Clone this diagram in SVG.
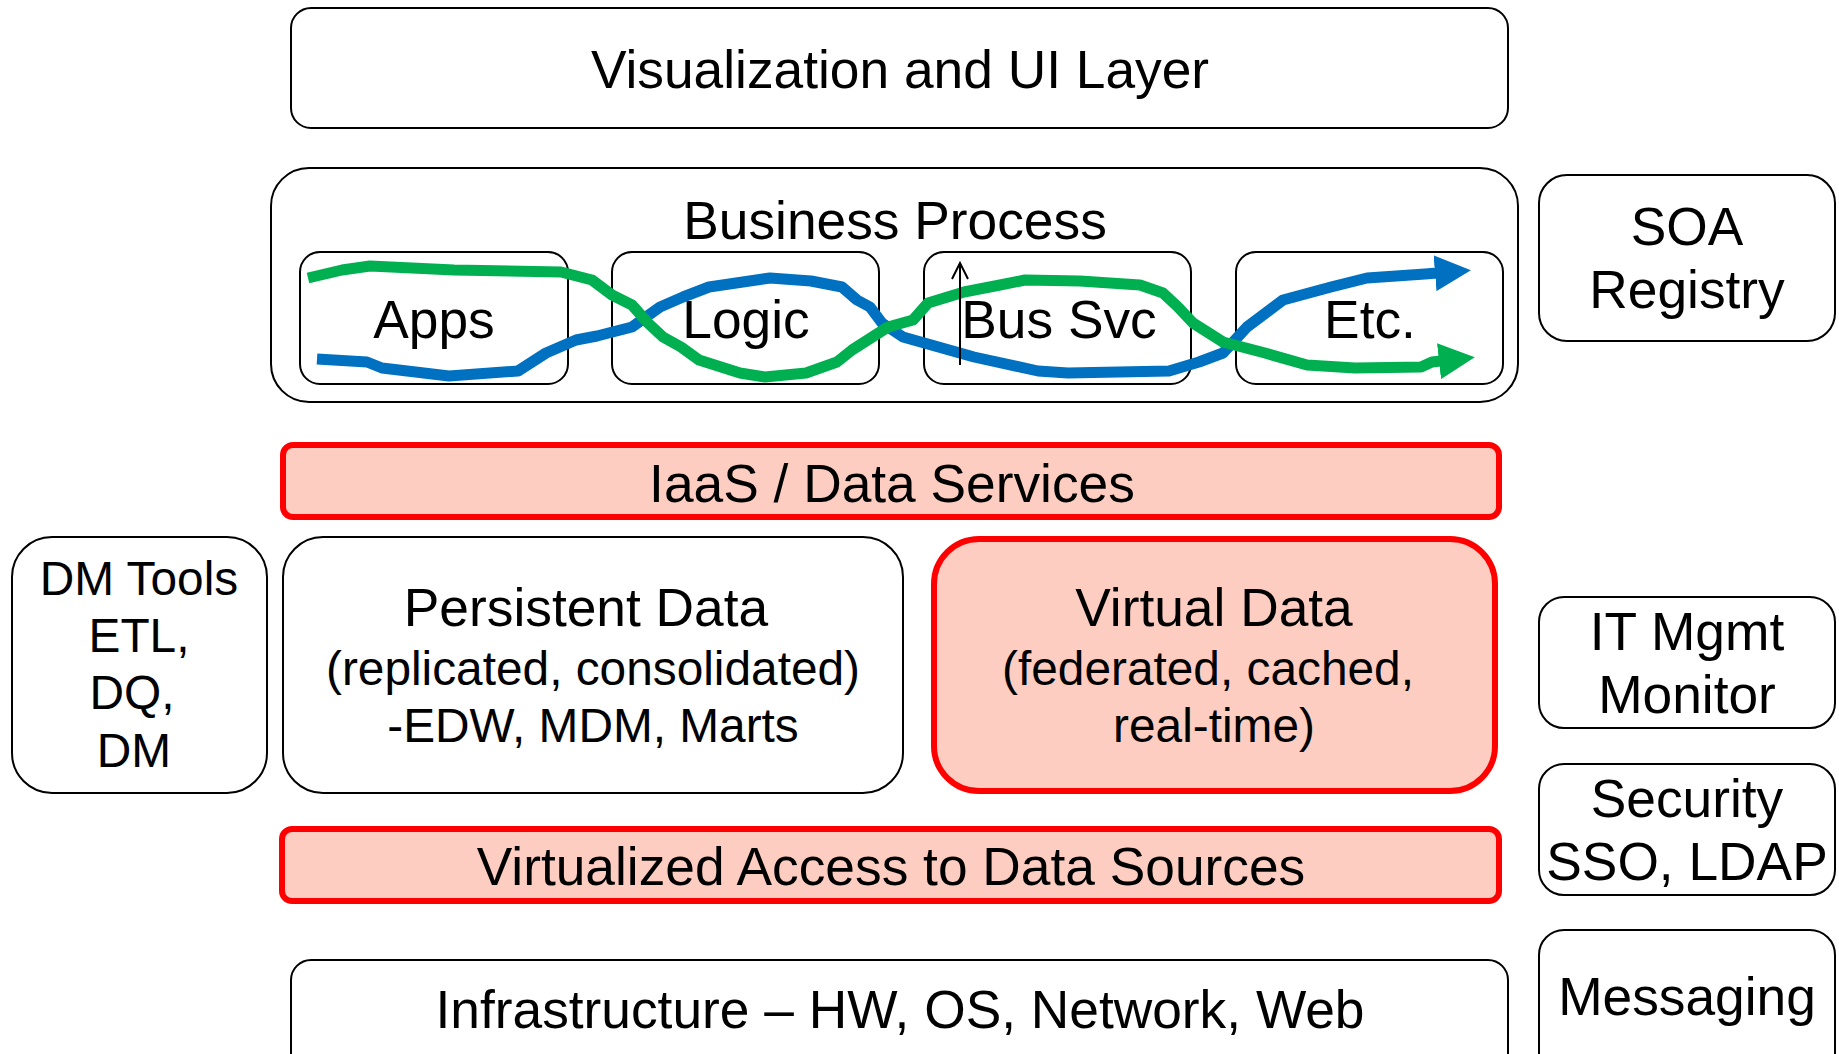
<svg xmlns="http://www.w3.org/2000/svg" width="1839" height="1054" viewBox="0 0 1839 1054">
<defs>
<style>
.box{fill:#ffffff;stroke:#000000;stroke-width:2}
.red{fill:#FDCDC1;stroke:#FF0000;stroke-width:6}
text{font-family:"Liberation Sans",Arial,sans-serif;fill:#000000;text-anchor:middle}
.t{font-size:53.3px}
.s{font-size:47.8px}
.flow{fill:none;stroke-width:11;stroke-linejoin:round;stroke-linecap:butt}
</style>
<marker id="ahBlue" markerUnits="userSpaceOnUse" viewBox="0 0 36 36" markerWidth="36" markerHeight="36" refX="2" refY="18" orient="auto">
<path d="M0,0 L36,18 L0,36 Z" fill="#0070C0"/>
</marker>
<marker id="ahGreen" markerUnits="userSpaceOnUse" viewBox="0 0 36 36" markerWidth="36" markerHeight="36" refX="2" refY="18" orient="auto">
<path d="M0,0 L36,18 L0,36 Z" fill="#00B050"/>
</marker>
<marker id="ahOpen" markerUnits="userSpaceOnUse" viewBox="-2 -10 20 20" markerWidth="20" markerHeight="20" refX="16" refY="0" orient="auto">
<path d="M0,-8 L16,0 L0,8" fill="none" stroke="#000000" stroke-width="2"/>
</marker>
</defs>
<rect width="1839" height="1054" fill="#ffffff"/>

<g id="visualization">
<rect class="box" x="291" y="8" width="1217" height="120" rx="20"/>
<text class="t" x="900" y="88">Visualization and UI Layer</text>
</g>

<g id="business-process">
<rect class="box" x="271" y="168" width="1247" height="234" rx="38"/>
<text class="t" x="895" y="239">Business Process</text>
</g>
<g id="apps">
<rect class="box" x="300" y="252" width="268" height="132" rx="20"/>
<text class="t" x="434" y="338">Apps</text>
</g>
<g id="logic">
<rect class="box" x="612" y="252" width="267" height="132" rx="20"/>
<text class="t" x="746" y="338">Logic</text>
</g>
<g id="bus-svc">
<rect class="box" x="924" y="252" width="267" height="132" rx="20"/>
<text class="t" x="1059" y="338">Bus Svc</text>
</g>
<g id="etc">
<rect class="box" x="1236" y="252" width="267" height="132" rx="20"/>
<text class="t" x="1370" y="338">Etc.</text>
</g>
<g id="soa-registry">
<rect class="box" x="1539" y="175" width="296" height="166" rx="28"/>
<text class="t" x="1687" y="245">SOA</text>
<text class="t" x="1687" y="308">Registry</text>
</g>

<g id="iaas">
<rect class="red" x="283" y="445" width="1216" height="72" rx="10"/>
<text class="t" x="892" y="502">IaaS / Data Services</text>
</g>

<g id="dm-tools">
<rect class="box" x="12" y="537" width="255" height="256" rx="40"/>
<text class="s" x="139" y="595">DM Tools</text>
<text class="s" x="139" y="652">ETL,</text>
<text class="s" x="132" y="709">DQ,</text>
<text class="s" x="134" y="767">DM</text>
</g>

<g id="persistent-data">
<rect class="box" x="283" y="537" width="620" height="256" rx="40"/>
<text class="t" x="586" y="626">Persistent Data</text>
<text class="s" x="593" y="685">(replicated, consolidated)</text>
<text class="s" x="593" y="742">-EDW, MDM, Marts</text>
</g>

<g id="virtual-data">
<rect class="red" x="934" y="539" width="561" height="252" rx="45"/>
<text class="t" x="1214" y="626">Virtual Data</text>
<text class="s" x="1208" y="685">(federated, cached,</text>
<text class="s" x="1214" y="742">real-time)</text>
</g>

<g id="virtualized-access">
<rect class="red" x="282" y="829" width="1217" height="72" rx="10"/>
<text class="t" x="891" y="885">Virtualized Access to Data Sources</text>
</g>

<g id="infrastructure">
<rect class="box" x="291" y="960" width="1217" height="120" rx="20"/>
<text class="t" x="900" y="1028">Infrastructure – HW, OS, Network, Web</text>
</g>

<g id="it-mgmt">
<rect class="box" x="1539" y="597" width="296" height="131" rx="25"/>
<text class="t" x="1687" y="650">IT Mgmt</text>
<text class="t" x="1687" y="713">Monitor</text>
</g>
<g id="security">
<rect class="box" x="1539" y="764" width="296" height="131" rx="25"/>
<text class="t" x="1687" y="817">Security</text>
<text class="t" x="1687" y="880">SSO, LDAP</text>
</g>
<g id="messaging">
<rect class="box" x="1539" y="930" width="296" height="150" rx="25"/>
<text class="t" x="1687" y="1015">Messaging</text>
</g>

<g id="connectors">
<path class="flow" stroke="#0070C0" marker-end="url(#ahBlue)" d="M317,359 L367,362 L382,368 L449,376 L518,371 L546,353 L576,340 L597,336 L632,327 L660,307 L683,297 L709,287 L770,278 L811,281 L842,287 L857,300 L870,307 L882,323 L903,337 L974,357 L1038,371 L1068,373 L1169,371 L1199,362 L1223,353 L1247,327 L1283,300 L1331,287 L1367,278 L1425,274 L1437,273"/>
<path class="flow" stroke="#00B050" marker-end="url(#ahGreen)" d="M308,278 L342,270 L370,266 L454,270 L561,272 L592,280 L612,295 L632,305 L648,323 L663,337 L681,347 L699,360 L740,373 L765,377 L806,373 L837,362 L852,350 L888,327 L913,320 L928,303 L964,292 L1000,285 L1025,280 L1080,281 L1140,285 L1163,293 L1178,307 L1193,323 L1223,342 L1265,353 L1307,365 L1355,368 L1421,367 L1432,362 L1441,361"/>
<line x1="960" y1="365" x2="960" y2="263" stroke="#000000" stroke-width="2" marker-end="url(#ahOpen)"/>
</g>
</svg>
